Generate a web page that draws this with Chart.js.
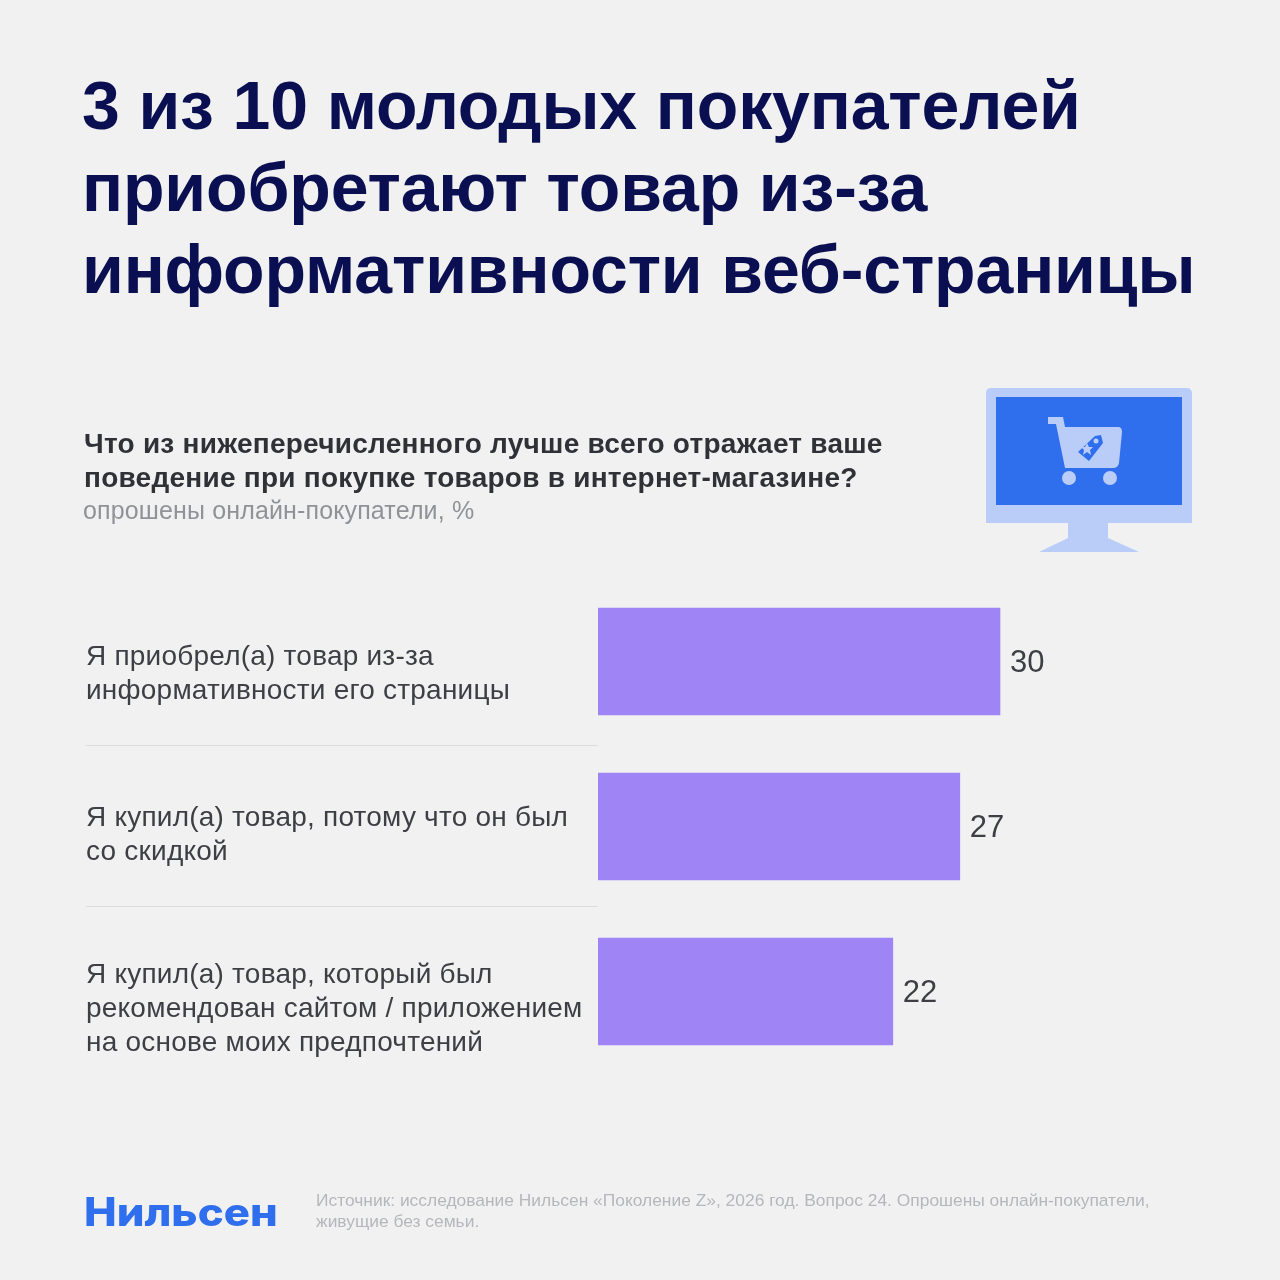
<!DOCTYPE html>
<html lang="ru">
<head>
<meta charset="utf-8">
<title>Нильсен</title>
<script src="https://cdn.jsdelivr.net/npm/chart.js@4"></script>
<style>
  html, body { margin: 0; padding: 0; }
  body { position: relative; width: 1280px; height: 1280px; background: #f1f1f2; overflow: hidden; font-family: "Liberation Sans", sans-serif; }
  #myChart { position: absolute; left: 0; top: 0; }
  .txt { position: absolute; white-space: nowrap; }
  #title { left: 82px; top: 64px; font-size: 68px; line-height: 82px; font-weight: 700; color: #0a0f52; letter-spacing: -0.13px; }
  #question { left: 84px; top: 427px; font-size: 28px; line-height: 34px; font-weight: 700; color: #2f3136; letter-spacing: 0.25px; }
  #sub { left: 83px; top: 494px; font-size: 25px; line-height: 32px; color: #8f9296; letter-spacing: 0.14px; }
  #logo { left: 84px; top: 1186px; font-family: Inter, sans-serif; font-size: 39px; line-height: 52px; font-weight: 800; color: #2f6fed; transform: scaleX(1.12); transform-origin: left; }
  #source { left: 316px; top: 1190px; font-size: 17.4px; line-height: 21px; color: #b5b7ba; }
  #icon { position: absolute; left: 985px; top: 387px; }
</style>
</head>
<body>
<canvas id="myChart" width="1280" height="1280"></canvas>

<div class="txt" id="title">3 из 10 молодых покупателей<br>приобретают товар из-за<br>информативности веб-страницы</div>
<div class="txt" id="question">Что из нижеперечисленного лучше всего отражает ваше<br>поведение при покупке товаров в интернет-магазине?</div>
<div class="txt" id="sub">опрошены онлайн-покупатели, %</div>
<div class="txt" id="logo">Нильсен</div>
<div class="txt" id="source">Источник: исследование Нильсен «Поколение Z», 2026 год. Вопрос 24. Опрошены онлайн-покупатели,<br>живущие без семьи.</div>

<svg id="icon" width="208" height="167" viewBox="0 0 208 167">
  <path d="M5 1H202a5 5 0 0 1 5 5V136H1V6a5 5 0 0 1 4-5z" fill="#b9cdf8"/>
  <path d="M83 135H123V151L154 165H54L83 151z" fill="#b9cdf8"/>
  <rect x="11" y="10" width="186" height="108" fill="#2f6fed"/>
  <path d="M63 30H78L80 40H133Q137 40 137 45L134 76Q133 81 128 81H80L71 37H63z" fill="#b9cdf8"/>
  <circle cx="84" cy="91" r="7" fill="#b9cdf8"/>
  <circle cx="125" cy="91" r="7" fill="#b9cdf8"/>
  <path d="M93 65L110 49L116 48L118 56L104 74z" fill="#2f6fed"/>
  <circle cx="111" cy="54" r="2.5" fill="#b9cdf8"/>
  <path d="M102 56L104 60L108 60L105 63L106 68L102 65L98 68L99 63L96 60L100 60z" fill="#b9cdf8"/>
</svg>

<script>
const categories = [
  ['Я приобрел(а) товар из-за', 'информативности его страницы'],
  ['Я купил(а) товар, потому что он был', 'со скидкой'],
  ['Я купил(а) товар, который был', 'рекомендован сайтом / приложением', 'на основе моих предпочтений'],
];
const values = [30, 27, 22];

// the labels do not sit exactly on the bar centres in the original
const labelShift = [13, 9, 18];
const ruleShift = [1, -3];

const sideLabels = {
  id: 'sideLabels',
  afterDraw(chart) {
    const ctx = chart.ctx;
    const y = chart.scales.y;
    ctx.save();
    ctx.font = '28px "Liberation Sans", sans-serif';
    ctx.letterSpacing = '0.22px';
    ctx.fillStyle = '#3d3f44';
    ctx.textBaseline = 'middle';
    categories.forEach((lines, i) => {
      const top = y.getPixelForValue(i) + labelShift[i] - (lines.length - 1) * 17;
      lines.forEach((line, k) => ctx.fillText(line, 86, top + k * 34));
    });
    ctx.strokeStyle = '#dcdcde';
    ctx.lineWidth = 1;
    ruleShift.forEach((shift, i) => {
      const rule = Math.round((y.getPixelForValue(i) + y.getPixelForValue(i + 1)) / 2 + shift) + 0.5;
      ctx.beginPath();
      ctx.moveTo(86, rule);
      ctx.lineTo(chart.chartArea.left, rule);
      ctx.stroke();
    });
    ctx.restore();
  },
};

// numbers to the right of each bar
const valueLabels = {
  id: 'valueLabels',
  afterDatasetsDraw(chart) {
    const ctx = chart.ctx;
    ctx.save();
    ctx.font = '31px "Liberation Sans", sans-serif';
    ctx.fillStyle = '#3d3f44';
    ctx.textBaseline = 'middle';
    chart.getDatasetMeta(0).data.forEach((bar, i) => {
      ctx.fillText(values[i], bar.x + 10, bar.y + 2);
    });
    ctx.restore();
  },
};

const myChart = new Chart(document.getElementById('myChart').getContext('2d'), {
  type: 'bar',
  data: {
    labels: categories,
    datasets: [
      {
        data: values,
        backgroundColor: '#9e84f5',
        barThickness: 107,
      },
    ],
  },
  plugins: [valueLabels, sideLabels],
  options: {
    indexAxis: 'y',
    responsive: false,
    animation: false,
    layout: { padding: { left: 598, top: 579, right: 79, bottom: 206 } },
    plugins: {
      legend: { display: false },
      title: { display: false },
      tooltip: { enabled: false },
    },
    scales: {
      x: {
        min: 0,
        max: 45,
        display: false,
      },
      y: {
        display: false,
      },
    },
  },
});
</script>
</body>
</html>
